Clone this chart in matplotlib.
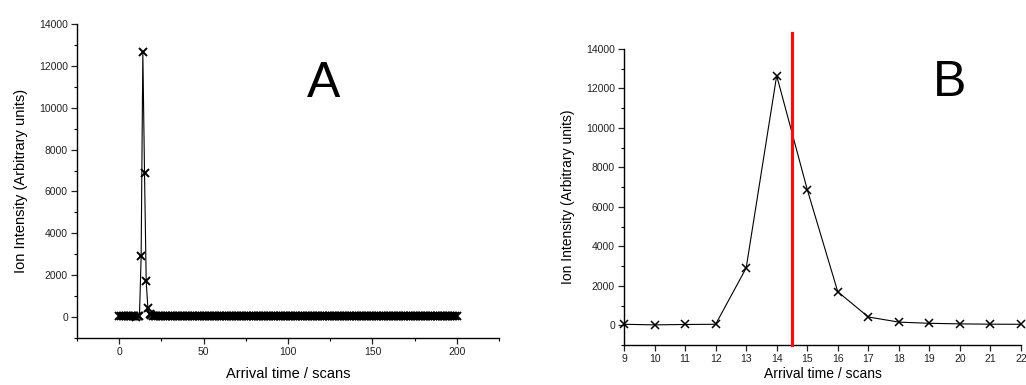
import matplotlib
matplotlib.use("Agg")
import matplotlib.pyplot as plt
from matplotlib.ticker import MultipleLocator

plt.rcParams['font.family'] = ['Liberation Sans', 'DejaVu Sans']

# Panel B data (zoomed region)
scans_b = [9, 10, 11, 12, 13, 14, 15, 16, 17, 18, 19, 20, 21, 22]
intensity_b = [50, 20, 40, 50, 2900, 12650, 6880, 1700, 420, 160, 100, 70, 55, 50]

# Panel A data: scans 0..200
head_a = [50, 45, 40, 55, 50, 45, 40, 50, 55, 45, 20, 40, 50,
          2900, 12650, 6880, 1700, 420, 160, 100, 70, 55, 50]
tail_a = [
    45, 40, 50, 45, 35, 40, 50, 45, 40, 35, 45, 50, 40, 45, 35, 40, 45, 50, 40, 45,
    40, 35, 45, 50, 45, 40, 35, 45, 40, 50, 45, 40, 35, 40, 45, 50, 45, 40, 45, 35,
    50, 45, 40, 45, 55, 40, 45, 50, 40, 35, 45, 40, 50, 45, 40, 35, 45, 50, 40, 45,
    55, 45, 40, 50, 45, 60, 40, 45, 50, 40, 45, 55, 40, 45, 50, 40, 35, 45, 50, 40,
    45, 50, 40, 35, 45, 40, 50, 45, 40, 45, 35, 40, 50, 45, 40, 35, 45, 50, 40, 45,
    40, 45, 50, 40, 35, 45, 40, 50, 45, 40, 35, 45, 50, 40, 45, 40, 35, 45, 50, 45,
    40, 35, 45, 40, 50, 45, 40, 35, 40, 45, 50, 45, 40, 45, 35, 50, 45, 40, 45, 40,
    35, 45, 50, 40, 45, 40, 45, 35, 40, 50, 45, 40, 35, 45, 40, 50, 45, 40, 45, 40,
    45, 40, 35, 45, 50, 40, 45, 40, 45, 50, 40, 35, 45, 40, 50, 45, 40, 45,
]
intensity_a = head_a + tail_a
scans_a = list(range(len(intensity_a)))

cut_position = 14.5
cut_top = 14800

W, H = 1026, 385
fig = plt.figure(figsize=(W / 100, H / 100), dpi=100)

axA = fig.add_axes([77 / W, (H - 338) / H, (499 - 77) / W, (338 - 24) / H])
axB = fig.add_axes([624 / W, (H - 345) / H, (1021 - 624) / W, (345 - 49) / H])

tick_fs = 7.5

for ax, lfs, xpad in ((axA, 10.5, 7), (axB, 10, 2)):
    for s in ('top', 'right'):
        ax.spines[s].set_visible(False)
    ax.spines['left'].set_linewidth(1.0)
    ax.spines['bottom'].set_linewidth(1.0)
    ax.set_ylim(-1000, 14000)
    ax.yaxis.set_major_locator(MultipleLocator(2000))
    ax.yaxis.set_minor_locator(MultipleLocator(1000))
    ax.tick_params(which='major', direction='out', length=4, width=0.9,
                   labelsize=tick_fs, colors='#222222', pad=2.5)
    ax.tick_params(which='minor', direction='out', length=2.5, width=0.8)
    ax.set_ylabel('Ion Intensity (Arbitrary units)', fontsize=lfs, labelpad=8)
    ax.set_xlabel('Arrival time / scans', fontsize=lfs, labelpad=xpad)

# Panel A
axA.plot(scans_a, intensity_a, color='black', lw=0.8, marker='x',
         markersize=5.5, markeredgewidth=1.4, clip_on=False)
axA.set_xlim(-25, 225)
axA.xaxis.set_major_locator(MultipleLocator(50))
axA.xaxis.set_minor_locator(MultipleLocator(25))
fig.text(324 / W, 1 - 97 / H, 'A', fontsize=36, ha='center', va='baseline')

# Panel B
axB.plot(scans_b, intensity_b, color='black', lw=0.8, marker='x',
         markersize=5.5, markeredgewidth=1.1, clip_on=False, zorder=3)
axB.set_xlim(9, 22)
axB.xaxis.set_major_locator(MultipleLocator(1))
axB.plot([cut_position, cut_position], [-1000, cut_top], color='#ee1111',
         lw=2.3, clip_on=False, zorder=4)
fig.text(950 / W, 1 - 96 / H, 'B', fontsize=36, ha='center', va='baseline')

fig.savefig('out.png', dpi=100)
